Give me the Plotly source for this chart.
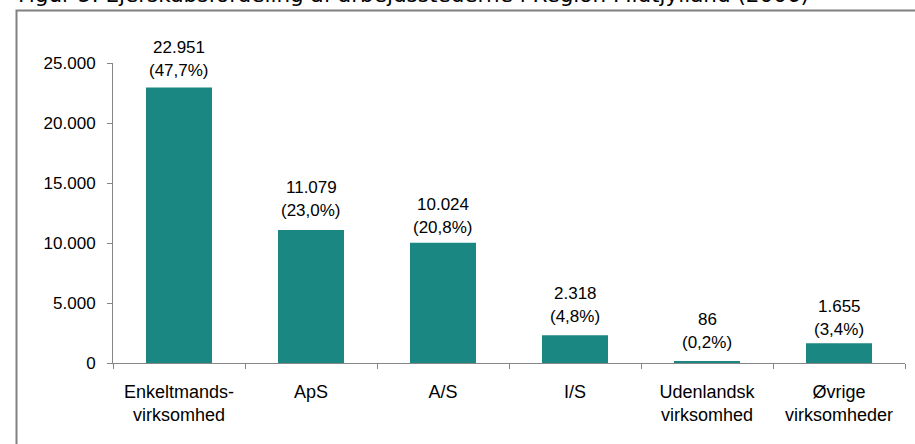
import plotly.graph_objects as go

categories = ["Enkeltmands-<br>virksomhed", "ApS", "A/S", "I/S", "Udenlandsk<br>virksomhed", "Øvrige<br>virksomheder"]
counts = [22951, 11079, 10024, 2318, 86, 1655]
shares = [47.7, 23.0, 20.8, 4.8, 0.2, 3.4]
title_text = "Figur 5: Ejerskabsfordeling af arbejdsstederne i Region Midtjylland (2006)"

# layout constants (pixels)
W, H = 915, 444
L, R, T, B = 113, 10, 63, 81
pw, ph = W - L - R, H - T - B
label_gap = [17, 20, 15, 19, 19, 14]   # px from bar top to centre of 2nd label line
line_step = 23                          # px between label lines

def px_x(x):
    return (x - L) / pw

def px_y(y):
    return 1 - (y - T) / ph

FONT = "Liberation Sans, Arial"

def fmt_int(v):
    return f"{v:,}".replace(",", ".")

def fmt_pct(p):
    return f"({p:.1f}%)".replace(".", ",")

fig = go.Figure(go.Bar(
    x=categories, y=counts,
    marker=dict(color="#1b8782", line=dict(width=0)),
    hoverinfo="skip",
))

annotations = []
for i, (c, v, p) in enumerate(zip(categories, counts, shares)):
    for txt, shift in ((fmt_int(v), label_gap[i] + line_step), (fmt_pct(p), label_gap[i])):
        annotations.append(dict(x=c, y=v, xref="x", yref="y", text=txt, showarrow=False,
                                xanchor="center", yanchor="middle", yshift=shift,
                                font=dict(family=FONT, size=17, color="#000000")))

annotations.append(dict(text=title_text, xref="paper", yref="paper",
                        x=px_x(16), y=px_y(9), xanchor="left", yanchor="bottom",
                        showarrow=False,
                        font=dict(family="DejaVu Sans, Verdana", size=21.5, color="#000000")))

fig.update_layout(
    width=W, height=H,
    margin=dict(l=L, r=R, t=T, b=B, autoexpand=False),
    paper_bgcolor="white", plot_bgcolor="white",
    separators=",.",
    bargap=0.5,
    showlegend=False,
    font=dict(family=FONT, size=17, color="#000000"),
    xaxis=dict(showline=True, linecolor="#868686", linewidth=1, automargin=False,
               ticks="outside", tickson="boundaries", ticklen=5, tickcolor="#868686",
               showgrid=False, tickfont=dict(size=18), ticklabelstandoff=12),
    yaxis=dict(range=[0, 25000], tickvals=[0, 5000, 10000, 15000, 20000, 25000], automargin=False,
               tickformat=",d", showline=True, linecolor="#868686", linewidth=1,
               ticks="outside", ticklen=5, tickcolor="#868686", showgrid=False,
               zeroline=False, tickfont=dict(size=17), ticklabelstandoff=8),
    shapes=[dict(type="rect", xref="paper", yref="paper",
                 x0=px_x(16.5), x1=px_x(925), y0=px_y(460), y1=px_y(10.5),
                 line=dict(color="#808080", width=2), fillcolor="rgba(0,0,0,0)", layer="below")],
    annotations=annotations,
)

fig.write_html("out.html", config={"displayModeBar": False},
               post_script="document.body.style.margin='0';document.body.style.overflow='hidden';")
